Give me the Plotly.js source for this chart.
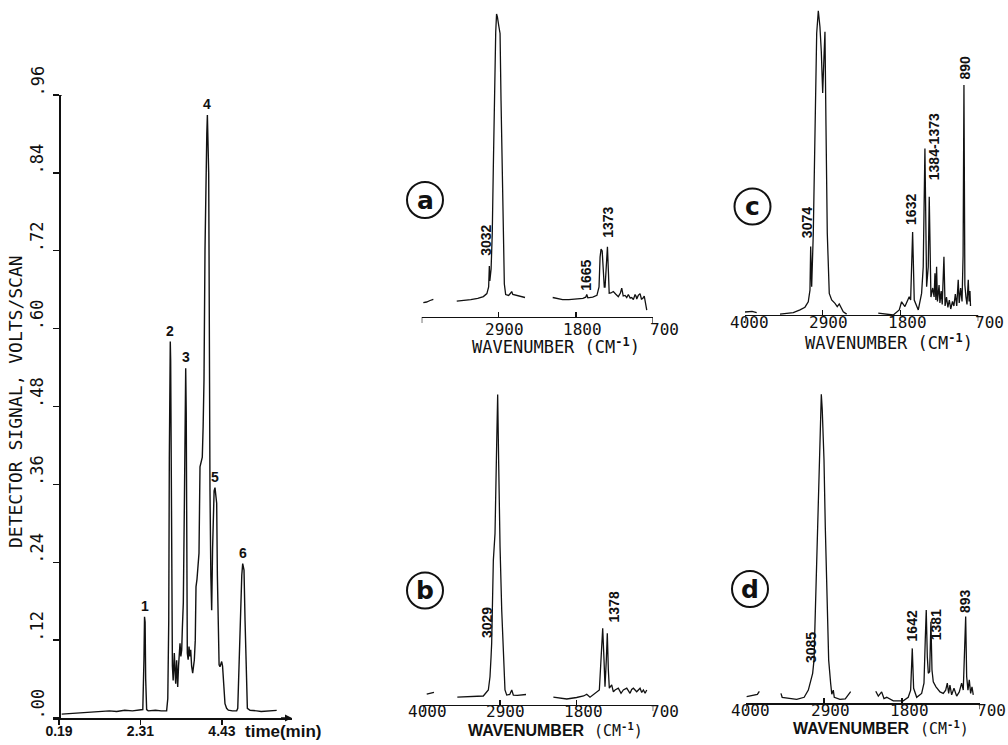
<!DOCTYPE html>
<html><head><meta charset="utf-8">
<script src="https://cdn.plot.ly/plotly-3.0.1.min.js"></script>
<style>html,body{margin:0;padding:0;background:#fff}#chart{width:1008px;height:745px}</style>
</head><body><div id="chart"></div>
<script>
// ---------------- Chromatogram data ----------------
const chromTime = [
 0.26, 0.50, 0.82, 1.05, 1.26, 1.50, 1.69, 1.90, 2.10, 2.30,
 2.37, 2.40, 2.415, 2.43, 2.445, 2.47, 2.51, 2.70, 2.85, 2.99,
 3.02, 3.045, 3.06, 3.075, 3.085, 3.095, 3.11, 3.125, 3.14, 3.16,
 3.19, 3.21, 3.226, 3.25, 3.278, 3.30, 3.312, 3.338, 3.36, 3.382,
 3.40, 3.424, 3.45, 3.47, 3.486, 3.50, 3.515, 3.528, 3.55, 3.572,
 3.595, 3.616, 3.64, 3.668, 3.69, 3.71, 3.735, 3.754, 3.78, 3.81,
 3.832, 3.858, 3.89, 3.918, 3.94, 3.962, 3.988, 4.01, 4.035, 4.05,
 4.065, 4.084, 4.093, 4.10, 4.118, 4.14, 4.162, 4.185, 4.205, 4.225,
 4.248, 4.27, 4.292, 4.31, 4.335, 4.355, 4.378, 4.40, 4.422, 4.445,
 4.465, 4.49, 4.508, 4.55, 4.595, 4.70, 4.812, 4.84, 4.87, 4.895,
 4.917, 4.945, 4.969, 4.99, 5.003, 5.03, 5.055, 5.075, 5.09, 5.16,
 5.25, 5.333, 5.45, 5.593, 5.70, 5.853];
const chromSignal = [
 0.006, 0.007, 0.008, 0.009, 0.010, 0.011, 0.010, 0.012, 0.011, 0.012,
 0.013, 0.09, 0.156, 0.148, 0.06, 0.013, 0.011, 0.012, 0.011, 0.011,
 0.03, 0.15, 0.40, 0.56, 0.58, 0.55, 0.35, 0.15, 0.08, 0.058,
 0.10, 0.07, 0.053, 0.089, 0.048, 0.08, 0.10, 0.115, 0.095, 0.105,
 0.14, 0.177, 0.32, 0.46, 0.539, 0.47, 0.25, 0.10, 0.09, 0.11,
 0.095, 0.105, 0.08, 0.069, 0.08, 0.089, 0.12, 0.202, 0.214, 0.235,
 0.254, 0.387, 0.395, 0.402, 0.45, 0.521, 0.721, 0.84, 0.90, 0.929,
 0.90, 0.84, 0.721, 0.521, 0.35, 0.22, 0.166, 0.26, 0.33, 0.35,
 0.355, 0.345, 0.331, 0.22, 0.09, 0.082, 0.079, 0.086, 0.087, 0.08,
 0.06, 0.03, 0.022, 0.015, 0.012, 0.011, 0.011, 0.015, 0.08, 0.15,
 0.177, 0.22, 0.238, 0.232, 0.228, 0.15, 0.084, 0.03, 0.015, 0.012,
 0.011, 0.011, 0.010, 0.0103, 0.011, 0.0118];
const chromPeakNames = ['1', '2', '3', '4', '5', '6'];
const chromPeakTimes = [2.415, 3.085, 3.486, 4.05, 4.248, 4.969];
const chromXTickVals = [0.19, 2.31, 4.43];
const chromXTickText = ['0.19', '2.31', '4.43'];
const chromYTickVals = [0, 0.12, 0.24, 0.36, 0.48, 0.60, 0.72, 0.84, 0.96];
const chromYTickText = ['.00', '.12', '.24', '.36', '.48', '.60', '.72', '.84', '.96'];

// ---------------- IR spectra data ----------------
const specTickVals = [4000, 2900, 1800, 700];
const specTickText = ['4000', '2900', '1800', '700'];
const specTickTextA = ['', '2900', '1800', '700'];

const aWavenumber = [3977, 3930, 3880, 3834, null,
 3500, 3400, 3300, 3200, 3120, 3070, 3045, 3035, 3028, 3010,
 2993, 2978, 2964, 2944, 2932, 2920, 2900, 2882, 2868, 2849,
 2835, 2821, 2802, 2760, 2730, 2716, 2700, 2650, 2580, 2526, null,
 2131, 2060, 1990, 1900, 1800, 1700, 1660, 1645, 1630, 1560,
 1500, 1470, 1455, 1441, 1425, 1410, 1395, 1384, 1365, 1350,
 1336, 1325, 1300, 1266, 1230, 1195, 1165, 1146, 1125, 1099,
 1075, 1052, 1025, 1003, 980, 956, 940, 932, 910, 885,
 865, 846, 825, 813, 789];
const aAbsorbance = [0.048, 0.050, 0.055, 0.059, null,
 0.053, 0.055, 0.058, 0.062, 0.068, 0.078, 0.10, 0.17, 0.12, 0.16,
 0.28, 0.50, 0.72, 0.95, 1.01, 1.00, 0.97, 0.945, 0.72, 0.50,
 0.28, 0.11, 0.075, 0.072, 0.08, 0.085, 0.075, 0.072, 0.068, 0.065, null,
 0.065, 0.062, 0.058, 0.058, 0.060, 0.062, 0.066, 0.075, 0.064, 0.066,
 0.072, 0.10, 0.20, 0.226, 0.22, 0.15, 0.10, 0.10, 0.16, 0.234,
 0.15, 0.079, 0.08, 0.085, 0.076, 0.068, 0.08, 0.096, 0.07, 0.072,
 0.065, 0.075, 0.063, 0.065, 0.058, 0.075, 0.068, 0.06, 0.072, 0.078,
 0.06, 0.062, 0.07, 0.05, 0.023];
const aPeakLabels = ['3032', '1665', '1373'];
const aPeakLabelWn = [3082, 1655, 1337];
const aPeakLabelAbs = [0.196, 0.079, 0.257];

const bWavenumber = [3951, 3900, 3847, null,
 3512, 3400, 3300, 3139, 3067, 3043, 3028, 3019, 2995, 2971,
 2947, 2933, 2918, 2909, 2899, 2875, 2852, 2828, 2803, 2760,
 2731, 2708, 2650, 2580, 2526, null,
 2134, 1942, 1800, 1700, 1655, 1608, 1474, 1450, 1426, 1407,
 1393, 1374, 1360, 1345, 1331, 1297, 1273, 1249, 1202, 1163,
 1130, 1081, 1034, 1010, 986, 938, 890, 866, 842, 818, 794];
const bAbsorbance = [0.036, 0.038, 0.042, null,
 0.026, 0.027, 0.028, 0.030, 0.05, 0.094, 0.16, 0.206, 0.483, 0.572,
 0.872, 1.035, 0.80, 0.572, 0.528, 0.317, 0.15, 0.05, 0.033, 0.035,
 0.05, 0.033, 0.032, 0.035, 0.035, null,
 0.026, 0.02, 0.025, 0.03, 0.036, 0.026, 0.05, 0.15, 0.256, 0.15,
 0.061, 0.15, 0.239, 0.117, 0.056, 0.067, 0.044, 0.05, 0.056, 0.039,
 0.05, 0.056, 0.039, 0.052, 0.056, 0.044, 0.056, 0.042, 0.05, 0.039, 0.05];
const bPeakLabels = ['3029', '1378'];
const bPeakLabelWn = [3076, 1263];
const bPeakLabelAbs = [0.217, 0.267];

const cWavenumber = [4000, 3900, 3835, null,
 3505, 3317, 3222, 3152, 3105, 3081, 3071, 3057, 3034, 3010,
 2986, 2963, 2940, 2921, 2901, 2883, 2869, 2855, 2836, 2808,
 2774, 2727, 2695, 2667, 2610, 2562, null,
 2115, 1903, 1818, 1785, 1738, 1677, 1657, 1629, 1606, 1549,
 1502, 1479, 1455, 1431, 1408, 1394, 1370, 1345, 1325, 1313,
 1300, 1290, 1278, 1255, 1243, 1225, 1210, 1186, 1170, 1150,
 1130, 1110, 1090, 1065, 1045, 1025, 1005, 984, 970, 950,
 930, 915, 903, 890, 875, 860, 842, 830, 818, 810];
const cAbsorbance = [0.01, 0.012, 0.008, null,
 0.003, 0.008, 0.017, 0.026, 0.044, 0.083, 0.228, 0.094, 0.272, 0.606,
 0.939, 1.014, 0.961, 0.88, 0.74, 0.86, 0.944, 0.639, 0.272, 0.072,
 0.05, 0.039, 0.028, 0.037, 0.011, 0.003, null,
 0.006, 0.0, 0.017, 0.044, 0.028, 0.061, 0.05, 0.277, 0.05, 0.017,
 0.072, 0.161, 0.555, 0.094, 0.161, 0.394, 0.06, 0.09, 0.06, 0.139,
 0.05, 0.161, 0.045, 0.10, 0.04, 0.08, 0.035, 0.194, 0.03, 0.06,
 0.025, 0.05, 0.02, 0.045, 0.03, 0.07, 0.03, 0.117, 0.04, 0.09,
 0.045, 0.2, 0.767, 0.1, 0.06, 0.035, 0.117, 0.045, 0.08, 0.03];
const cPeakLabels = ['3074', '1632', '1384-1373', '890'];
const cPeakLabelWn = [3128, 1643, 1328, 889];
const cPeakLabelAbs = [0.25, 0.294, 0.444, 0.778];

const dWavenumber = [3991, 3900, 3840, 3812, null,
 3507, 3490, 3285, 3180, 3121, 3088, 3060, 3041, 3013, 2989,
 2966, 2945, 2938, 2925, 2910, 2900, 2882, 2862, 2834, 2806,
 2790, 2769, 2755, 2675, 2600, 2524, null,
 2170, 2134, 2087, 2054, 2016, 1923, 1782, 1712, 1678, 1655,
 1636, 1593, 1523, 1490, 1472, 1458, 1443, 1429, 1410, 1392,
 1377, 1359, 1321, 1264, 1218, 1184, 1161, 1142, 1124, 1100,
 1067, 1029, 992, 959, 936, 922, 902, 888, 870, 851,
 832, 813, 795];
const dAbsorbance = [0.022, 0.028, 0.030, 0.04, null,
 0.033, 0.02, 0.013, 0.02, 0.044, 0.078, 0.10, 0.144, 0.367, 0.589,
 0.811, 0.98, 1.03, 0.98, 0.90, 0.811, 0.589, 0.367, 0.144, 0.066,
 0.03, 0.044, 0.02, 0.013, 0.015, 0.039, null,
 0.04, 0.024, 0.038, 0.016, 0.02, 0.008, 0.008, 0.02, 0.044, 0.183,
 0.05, 0.02, 0.033, 0.067, 0.211, 0.311, 0.155, 0.1, 0.105, 0.272,
 0.111, 0.072, 0.055, 0.038, 0.033, 0.044, 0.067, 0.033, 0.061, 0.028,
 0.05, 0.024, 0.038, 0.067, 0.044, 0.155, 0.289, 0.089, 0.044, 0.078,
 0.033, 0.055, 0.028];
const dPeakLabels = ['3085', '1642', '1381', '893'];
const dPeakLabelWn = [3074, 1664, 1321, 912];
const dPeakLabelAbs = [0.128, 0.2, 0.205, 0.294];

const panelLetters = ['a', 'b', 'c', 'd'];

// ---------------- Styling / layout ----------------
const W = 1008, H = 745;
const fx = p => p / W;
const fy = p => 1 - p / H;
const PLOTTER = '"DejaVu Sans Mono", "Liberation Mono", monospace';
const NARROW = '"Liberation Sans Narrow", "Arial Narrow", "Liberation Sans", Arial, sans-serif';
const BOLDSANS = '"Liberation Sans", Arial, sans-serif';
const INK = '#111';

const lineTrace = (x, y, xa, ya, w) => ({
  type: 'scatter', mode: 'lines', x: x, y: y, xaxis: xa, yaxis: ya,
  connectgaps: false, hoverinfo: 'skip',
  line: { color: INK, width: w, shape: 'linear' }
});

const traces = [
  lineTrace(chromTime, chromSignal, 'x', 'y', 1.4),
  lineTrace(aWavenumber, aAbsorbance, 'x2', 'y2', 1.3),
  lineTrace(bWavenumber, bAbsorbance, 'x4', 'y4', 1.3),
  lineTrace(cWavenumber, cAbsorbance, 'x3', 'y3', 1.3),
  lineTrace(dWavenumber, dAbsorbance, 'x5', 'y5', 1.3)
];

function specX(x0, x1, anchor) {
  return {
    domain: [fx(x0), fx(x1)], range: [4000, 700], anchor: anchor,
    showline: true, linecolor: INK, linewidth: 1.3,
    ticks: 'inside', ticklen: 5, tickwidth: 1.2, tickcolor: INK,
    tickmode: 'array', tickvals: specTickVals, showticklabels: false,
    showgrid: false, zeroline: false, fixedrange: true
  };
}
function specY(yBottom, anchor) {
  return {
    domain: [fy(yBottom), fy(yBottom - 315)], range: [0, 1.05], anchor: anchor,
    visible: false, showgrid: false, zeroline: false, fixedrange: true
  };
}

const layout = {
  width: W, height: H,
  margin: { l: 0, r: 0, t: 0, b: 0 },
  paper_bgcolor: '#fff', plot_bgcolor: 'rgba(0,0,0,0)',
  showlegend: false,
  xaxis: {
    domain: [fx(53), fx(292)], range: [0.19 - 6 / 38.44, 0.19 + 233 / 38.44], anchor: 'y',
    showline: true, linecolor: INK, linewidth: 1.5,
    ticks: 'outside', ticklen: 5, tickwidth: 1.3, tickcolor: INK,
    tickmode: 'array', tickvals: chromXTickVals,
    ticktext: chromXTickText.map(t => '<b>' + t + '</b>'),
    tickfont: { family: NARROW, size: 14, color: INK },
    ticklabelstandoff: -5,
    showgrid: false, zeroline: false, fixedrange: true
  },
  yaxis: {
    domain: [fy(718), fy(95)], range: [0, 0.96], anchor: 'free', position: fx(59),
    showline: true, linecolor: INK, linewidth: 1.5,
    ticks: 'outside', ticklen: 6, tickwidth: 1.3, tickcolor: INK,
    tickmode: 'array', tickvals: chromYTickVals, showticklabels: false,
    showgrid: false, zeroline: false, fixedrange: true
  },
  xaxis2: specX(421.7, 653, 'y2'),
  yaxis2: specY(317, 'x2'),
  xaxis3: specX(745, 978.3, 'y3'),
  yaxis3: specY(315, 'x3'),
  xaxis4: specX(423.3, 653.3, 'y4'),
  yaxis4: specY(705, 'x4'),
  xaxis5: specX(746, 980, 'y5'),
  yaxis5: specY(703.3, 'x5'),
  shapes: [],
  annotations: []
};

const ann = layout.annotations;

// chromatogram y tick labels (rotated, decimal point level with the tick)
chromYTickVals.forEach((v, i) => ann.push({ xref: 'paper', yref: 'y', x: fx(37), y: v,
  text: chromYTickText[i], textangle: -90, showarrow: false, xanchor: 'center', yanchor: 'bottom', yshift: -4,
  font: { family: PLOTTER, size: 17, color: INK } }));
// chromatogram y title
ann.push({ xref: 'paper', yref: 'paper', x: fx(16), y: fy(402), text: 'DETECTOR SIGNAL, VOLTS/SCAN',
  textangle: -90, showarrow: false, xanchor: 'center', yanchor: 'middle',
  font: { family: PLOTTER, size: 18, color: INK } });
// chromatogram x title
ann.push({ xref: 'paper', yref: 'paper', x: fx(283), y: fy(731), text: '<b>time(min)</b>',
  showarrow: false, xanchor: 'center', yanchor: 'middle',
  font: { family: NARROW, size: 17, color: INK } });
// arrow at end of time axis
ann.push({ xref: 'x', yref: 'y', x: layout.xaxis.range[1], y: 0, ax: -14, ay: 0, text: ' ',
  showarrow: true, arrowhead: 2, arrowsize: 1, arrowwidth: 1.4, arrowcolor: INK, standoff: 0 });
// small hook at the top of the signal axis
layout.shapes.push({ type: 'line', xref: 'paper', yref: 'y', x0: fx(59), x1: fx(62), y0: 0.96, y1: 0.96,
  line: { color: INK, width: 1.3 } });
// chromatogram peak numbers anchored at data peaks
chromPeakNames.forEach((name, i) => {
  let best = 0;
  chromTime.forEach((t, j) => { if (Math.abs(t - chromPeakTimes[i]) < Math.abs(chromTime[best] - chromPeakTimes[i])) best = j; });
  ann.push({ xref: 'x', yref: 'y', x: chromTime[best], y: chromSignal[best], text: '<b>' + name + '</b>',
    showarrow: false, xanchor: 'center', yanchor: 'bottom', yshift: 1,
    font: { family: NARROW, size: 14, color: INK } });
});

// spectra: tick labels, end ticks, peak labels
const tickShift = [4, 6, 7, 11];
function specDecor(xa, ya, axisY, labelY, ticktext, labels, wn, abs) {
  specTickVals.forEach((v, i) => {
    if (ticktext[i]) ann.push({ xref: xa, yref: 'paper', x: v, y: fy(labelY), xshift: tickShift[i],
      text: ticktext[i], showarrow: false, xanchor: 'center', yanchor: 'middle',
      font: { family: PLOTTER, size: 16, color: INK } });
  });
  [4000, 700].forEach(v => layout.shapes.push({ type: 'line', xref: xa, yref: 'paper', x0: v, x1: v,
    y0: fy(axisY), y1: fy(axisY + 6), line: { color: INK, width: 1.2 } }));
  labels.forEach((t, i) => ann.push({ xref: xa, yref: ya, x: wn[i], y: abs[i], text: '<b>' + t + '</b>',
    textangle: -90, showarrow: false, xanchor: 'center', yanchor: 'bottom',
    font: { family: NARROW, size: 14, color: INK } }));
}
specDecor('x2', 'y2', 317, 329, specTickTextA, aPeakLabels, aPeakLabelWn, aPeakLabelAbs);
specDecor('x3', 'y3', 315, 322, specTickText, cPeakLabels, cPeakLabelWn, cPeakLabelAbs);
specDecor('x4', 'y4', 705, 711, specTickText, bPeakLabels, bPeakLabelWn, bPeakLabelAbs);
specDecor('x5', 'y5', 703.3, 710, specTickText, dPeakLabels, dPeakLabelWn, dPeakLabelAbs);

// wavenumber titles
[[556, 346], [889, 342]].forEach(p => ann.push({ xref: 'paper', yref: 'paper', x: fx(p[0]), y: fy(p[1]),
  text: 'WAVENUMBER (CM<sup><b>-1</b></sup>)', showarrow: false, xanchor: 'center', yanchor: 'middle',
  font: { family: PLOTTER, size: 17, color: INK } }));
[[526.7, 618, 730], [851.7, 944, 728]].forEach(p => {
  ann.push({ xref: 'paper', yref: 'paper', x: fx(p[0]), y: fy(p[2]), text: '<b>WAVENUMBER</b>',
    showarrow: false, xanchor: 'center', yanchor: 'middle',
    font: { family: BOLDSANS, size: 16, color: INK } });
  ann.push({ xref: 'paper', yref: 'paper', x: fx(p[1]), y: fy(p[2]), text: '(CM<sup><b>-1</b></sup>)',
    showarrow: false, xanchor: 'center', yanchor: 'middle',
    font: { family: PLOTTER, size: 15, color: INK } });
});

// circled panel letters
const circleCenters = [[425, 200], [425, 590.5], [752.5, 206.5], [750, 589]];
panelLetters.forEach((L, i) => {
  const c = circleCenters[i], r = 18;
  layout.shapes.push({ type: 'circle', xref: 'paper', yref: 'paper',
    x0: fx(c[0] - r), x1: fx(c[0] + r), y0: fy(c[1] + r), y1: fy(c[1] - r),
    line: { color: INK, width: 2 } });
  ann.push({ xref: 'paper', yref: 'paper', x: fx(c[0]), y: fy(c[1]), text: '<b>' + L + '</b>',
    showarrow: false, xanchor: 'center', yanchor: 'middle',
    font: { family: '"DejaVu Sans", sans-serif', size: 25, color: INK } });
});

Plotly.newPlot('chart', traces, layout, { staticPlot: true, displayModeBar: false });
</script></body></html>
